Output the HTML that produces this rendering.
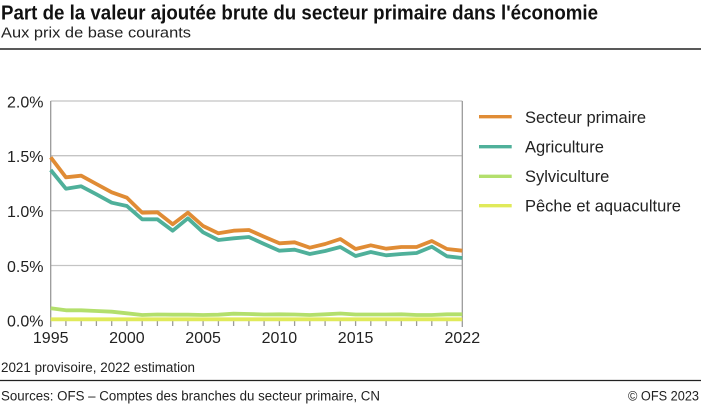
<!DOCTYPE html>
<html><head><meta charset="utf-8"><style>
html,body{margin:0;padding:0;background:#fff;}
svg{display:block;font-family:"Liberation Sans",Arial,sans-serif;}
</style></head><body>
<svg width="701" height="410" viewBox="0 0 701 410" xmlns="http://www.w3.org/2000/svg">
<rect width="701" height="410" fill="#fff"/>
<text x="1" y="19.5" font-size="20" font-weight="bold" fill="#111" textLength="597" lengthAdjust="spacingAndGlyphs">Part de la valeur ajoutée brute du secteur primaire dans l'économie</text>
<text x="1" y="37.5" font-size="15" fill="#222" textLength="190" lengthAdjust="spacingAndGlyphs">Aux prix de base courants</text>
<line x1="0" y1="49" x2="701" y2="49" stroke="#222" stroke-width="1.5"/>

<!-- grid -->
<g stroke="#c4c4c4" stroke-width="1.3">
<line x1="50.7" y1="101" x2="462.3" y2="101"/>
<line x1="50.7" y1="155.7" x2="462.3" y2="155.7"/>
<line x1="50.7" y1="210.7" x2="462.3" y2="210.7"/>
<line x1="50.7" y1="265.5" x2="462.3" y2="265.5"/>
</g>
<g stroke="#9a9a9a" stroke-width="1.3">
<line x1="50.7" y1="101" x2="50.7" y2="327"/>
<line x1="462.3" y1="101" x2="462.3" y2="327"/>
<line x1="50.7" y1="320.3" x2="462.3" y2="320.3"/>
<line x1="65.9" y1="320.3" x2="65.9" y2="326"/>
<line x1="81.2" y1="320.3" x2="81.2" y2="326"/>
<line x1="96.4" y1="320.3" x2="96.4" y2="326"/>
<line x1="111.7" y1="320.3" x2="111.7" y2="326"/>
<line x1="126.9" y1="320.3" x2="126.9" y2="326"/>
<line x1="142.2" y1="320.3" x2="142.2" y2="326"/>
<line x1="157.4" y1="320.3" x2="157.4" y2="326"/>
<line x1="172.7" y1="320.3" x2="172.7" y2="326"/>
<line x1="187.9" y1="320.3" x2="187.9" y2="326"/>
<line x1="203.1" y1="320.3" x2="203.1" y2="326"/>
<line x1="218.4" y1="320.3" x2="218.4" y2="326"/>
<line x1="233.6" y1="320.3" x2="233.6" y2="326"/>
<line x1="248.9" y1="320.3" x2="248.9" y2="326"/>
<line x1="264.1" y1="320.3" x2="264.1" y2="326"/>
<line x1="279.4" y1="320.3" x2="279.4" y2="326"/>
<line x1="294.6" y1="320.3" x2="294.6" y2="326"/>
<line x1="309.8" y1="320.3" x2="309.8" y2="326"/>
<line x1="325.1" y1="320.3" x2="325.1" y2="326"/>
<line x1="340.3" y1="320.3" x2="340.3" y2="326"/>
<line x1="355.6" y1="320.3" x2="355.6" y2="326"/>
<line x1="370.8" y1="320.3" x2="370.8" y2="326"/>
<line x1="386.1" y1="320.3" x2="386.1" y2="326"/>
<line x1="401.3" y1="320.3" x2="401.3" y2="326"/>
<line x1="416.6" y1="320.3" x2="416.6" y2="326"/>
<line x1="431.8" y1="320.3" x2="431.8" y2="326"/>
<line x1="447.0" y1="320.3" x2="447.0" y2="326"/>
</g>

<!-- y labels -->
<g font-size="16" fill="#222" text-anchor="end">
<text x="43.5" y="107.5">2.0%</text>
<text x="43.5" y="162">1.5%</text>
<text x="43.5" y="217">1.0%</text>
<text x="43.5" y="272">0.5%</text>
<text x="43.5" y="326.5">0.0%</text>
</g>
<!-- x labels -->
<g font-size="16" fill="#222" text-anchor="middle">
<text x="50.7" y="343">1995</text>
<text x="126.9" y="343">2000</text>
<text x="203.1" y="343">2005</text>
<text x="279.4" y="343">2010</text>
<text x="355.6" y="343">2015</text>
<text x="462.3" y="343">2022</text>
</g>

<!-- series -->
<g fill="none" stroke-width="3.8" stroke-linejoin="round" stroke-linecap="butt">
<polyline stroke="#e0ea5a" points="50.7,319.3 462.3,319.3"/>
<polyline stroke="#b3df6c" points="50.7,308.3 65.9,310.3 81.2,310.3 96.4,311 111.7,311.7 126.9,313.3 142.2,315 157.4,314.5 172.7,314.7 187.9,314.7 203.1,315 218.4,314.7 233.6,313.7 248.9,314 264.1,314.5 279.4,314.3 294.6,314.5 309.8,315 325.1,314.3 340.3,313.5 355.6,314.5 370.8,314.5 386.1,314.5 401.3,314.3 416.6,315 431.8,315 447.0,314.3 462.3,314.3"/>
<polyline stroke="#4fb09a" points="50.7,170 65.9,188.7 81.2,186.3 96.4,194.3 111.7,202.7 126.9,206 142.2,219.3 157.4,219.3 172.7,230.7 187.9,218.3 203.1,232.3 218.4,240 233.6,238.3 248.9,237 264.1,244 279.4,250.7 294.6,249.7 309.8,254 325.1,251 340.3,247 355.6,256 370.8,252 386.1,255.3 401.3,254 416.6,253 431.8,246.7 447.0,256.3 462.3,258"/>
<polyline stroke="#e08c35" points="50.7,157.3 65.9,177.3 81.2,175.7 96.4,184 111.7,192.3 126.9,197.7 142.2,212.7 157.4,212.3 172.7,224.3 187.9,212.7 203.1,226 218.4,233.3 233.6,230.7 248.9,230 264.1,236.7 279.4,243.3 294.6,242.3 309.8,247.7 325.1,244 340.3,239 355.6,249 370.8,245.3 386.1,248.7 401.3,247 416.6,247 431.8,241 447.0,249 462.3,250.7"/>
</g>

<!-- legend -->
<g stroke-width="3.3">
<line x1="479" y1="116.7" x2="511.7" y2="116.7" stroke="#e08c35"/>
<line x1="479" y1="146.7" x2="511.7" y2="146.7" stroke="#4fb09a"/>
<line x1="479" y1="176.3" x2="511.7" y2="176.3" stroke="#b3df6c"/>
<line x1="479" y1="205.7" x2="511.7" y2="205.7" stroke="#e0ea5a"/>
</g>
<g font-size="16.5" fill="#222">
<text x="525" y="123">Secteur primaire</text>
<text x="525" y="152.5">Agriculture</text>
<text x="525" y="182">Sylviculture</text>
<text x="525" y="211.5">Pêche et aquaculture</text>
</g>

<text x="1" y="372" font-size="13.5" fill="#222" textLength="194" lengthAdjust="spacingAndGlyphs">2021 provisoire, 2022 estimation</text>
<line x1="0" y1="380.5" x2="701" y2="380.5" stroke="#222" stroke-width="1.3"/>
<text x="1" y="400.5" font-size="13.5" fill="#222" textLength="379" lengthAdjust="spacingAndGlyphs">Sources: OFS – Comptes des branches du secteur primaire, CN</text>
<text x="699" y="400.5" font-size="13.5" fill="#222" text-anchor="end" textLength="71" lengthAdjust="spacingAndGlyphs">© OFS 2023</text>
</svg>
</body></html>
